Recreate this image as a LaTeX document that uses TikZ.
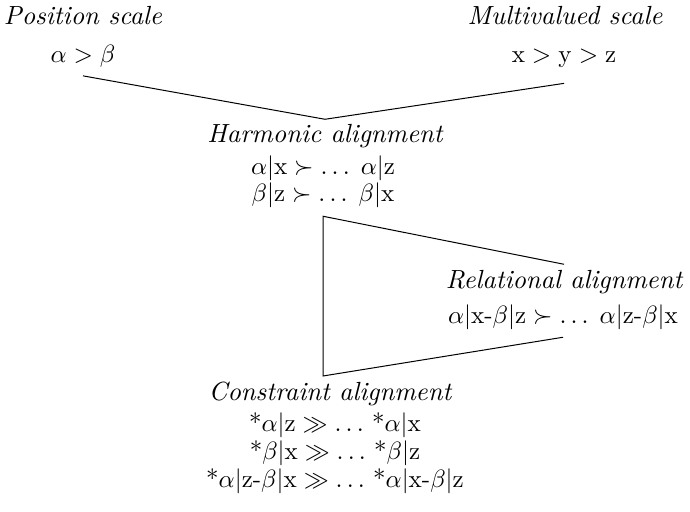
\documentclass[tikz,border=0pt]{standalone}
\usepackage{amsmath}
\usepackage{amssymb}
\usepackage{tikz}
\usetikzlibrary{positioning,calc}
\tikzset{
  ttl/.style = {font=\fontsize{10.5}{12.6}\selectfont\itshape, inner sep=2pt,
                anchor=base},
  mth/.style = {font=\fontsize{10}{12}\selectfont, align=center,
                inner sep=3pt, anchor=base},
  ln/.style  = {thin},
}

\begin{document}
\begin{tikzpicture}[x=0.4pt, y=-0.4pt]
  \useasboundingbox (0,0) rectangle (690,511);
  % scales
  \node[ttl] (posT) at (83,25) {Position scale};
  \node[mth] (posM) at (83,63) {$\alpha > \beta$};
  \node[ttl] (mulT) at (565,25) {Multivalued scale};
  \node[mth] (mulM) at (564,63) {$\mathrm{x} > \mathrm{y} > \mathrm{z}$};
  % alignments (base of a multi-line node = last line)
  \node[ttl] (harT) at (325,143) {Harmonic alignment};
  \node[mth] (harM) at (323,202)
       {$\alpha|\mathrm{x} \succ \ldots\; \alpha|\mathrm{z}$\\[-1.2pt]
        $\beta|\mathrm{z} \succ \ldots\; \beta|\mathrm{x}$};
  \node[ttl] (relT) at (564,288) {Relational alignment};
  \node[mth] (relM) at (563,323)
       {$\alpha|\mathrm{x}$-$\beta|\mathrm{z} \succ \ldots\; \alpha|\mathrm{z}$-$\beta|\mathrm{x}$};
  \node[ttl] (conT) at (330,400) {Constraint alignment};
  \node[mth] (conM) at (335,487)
       {*$\alpha|\mathrm{z} \gg \ldots$ *$\alpha|\mathrm{x}$\\[-0.8pt]
        *$\beta|\mathrm{x} \gg \ldots$ *$\beta|\mathrm{z}$\\[-0.8pt]
        *$\alpha|\mathrm{z}$-$\beta|\mathrm{x} \gg \ldots$ *$\alpha|\mathrm{x}$-$\beta|\mathrm{z}$};
  \coordinate (bend) at (harM.south |- conT.north);
  \draw[ln] (posM.south) -- (harT.north) -- ([yshift=-3pt]mulM.south);
  \draw[ln] (relT.north) -- (harM.south) -- (bend) -- (relM.south);
\end{tikzpicture}
\end{document}
